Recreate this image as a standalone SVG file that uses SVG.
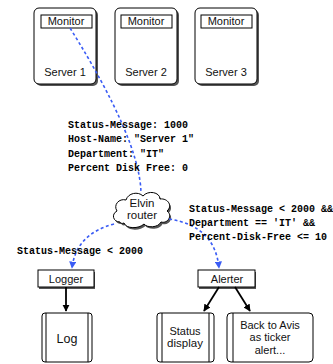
<svg xmlns="http://www.w3.org/2000/svg" width="333" height="364" viewBox="0 0 333 364">
<style>
.box{fill:#fff;stroke:#000;stroke-width:1}
.shadow{fill:#555;stroke:none}
.sans{font-family:"Liberation Sans",Arial,sans-serif;fill:#111;text-anchor:middle}
.mono{font-family:"Liberation Mono","Courier New",monospace;font-size:10px;font-weight:bold;fill:#000}
.blue{fill:none;stroke:#3a5cf5;stroke-width:1.6;stroke-dasharray:3 2.5}
.black{fill:none;stroke:#000;stroke-width:1.8}
</style>
<defs>
<marker id="ab" viewBox="0 0 10 10" refX="9" refY="5" markerWidth="4.5" markerHeight="4.5" orient="auto" markerUnits="strokeWidth">
<path d="M0,0 L10,5 L0,10 Z" fill="#3a5cf5"/>
</marker>
<marker id="ak" viewBox="0 0 10 10" refX="9" refY="5" markerWidth="4" markerHeight="4" orient="auto" markerUnits="strokeWidth">
<path d="M0,0 L10,5 L0,10 Z" fill="#000"/>
</marker>
<path id="cloud" d="M120,222 C113,222 111,214 117,211 C113,205 119,198 126,200 C128,193 138,191 143,196 C148,190 160,192 160,199 C168,198 173,206 167,211 C173,215 168,224 161,222 C158,228 147,228 144,224 C139,229 126,229 124,223 C122,224 120,223 120,222 Z"/>
</defs>
<rect width="333" height="364" fill="#fff"/>

<g id="server1">
<rect class="shadow" x="36" y="10" width="62" height="76" rx="5"/>
<rect class="box" x="34" y="8" width="62" height="76" rx="5"/>
<rect class="box" x="41" y="15" width="51" height="13"/>
<text class="sans" x="66" y="25" font-size="11">Monitor</text>
<text class="sans" x="65" y="76" font-size="11">Server 1</text>
</g>
<g id="server2">
<rect class="shadow" x="117" y="10" width="62" height="76" rx="5"/>
<rect class="box" x="115" y="8" width="62" height="76" rx="5"/>
<rect class="box" x="121" y="15" width="51" height="13"/>
<text class="sans" x="146" y="25" font-size="11">Monitor</text>
<text class="sans" x="146" y="76" font-size="11">Server 2</text>
</g>
<g id="server3">
<rect class="shadow" x="197" y="10" width="62" height="76" rx="5"/>
<rect class="box" x="195" y="8" width="62" height="76" rx="5"/>
<rect class="box" x="201" y="15" width="51" height="13"/>
<text class="sans" x="226" y="25" font-size="11">Monitor</text>
<text class="sans" x="226" y="76" font-size="11">Server 3</text>
</g>

<g id="router">
<use href="#cloud" transform="translate(1.5,2)" fill="#555"/>
<use href="#cloud" fill="#fff" stroke="#000" stroke-width="1"/>
<text class="sans" x="142" y="207" font-size="11.5">Elvin</text>
<text class="sans" x="142" y="219" font-size="11.5">router</text>
</g>

<g id="logger">
<rect class="shadow" x="39" y="272" width="56" height="17"/>
<rect class="box" x="38" y="270" width="56" height="17"/>
<text class="sans" x="66" y="283" font-size="11">Logger</text>
</g>
<g id="alerter">
<rect class="shadow" x="199" y="272" width="57" height="17"/>
<rect class="box" x="198" y="270" width="57" height="17"/>
<text class="sans" x="227" y="283" font-size="11">Alerter</text>
</g>

<g id="log">
<rect class="box" x="42" y="313" width="50" height="49" rx="3"/>
<line x1="46" y1="313" x2="46" y2="362" stroke="#000"/>
<line x1="88" y1="313" x2="88" y2="362" stroke="#000"/>
<text class="sans" x="67" y="343" font-size="12.5">Log</text>
</g>
<g id="status">
<rect class="box" x="157" y="313" width="57" height="49" rx="3"/>
<line x1="162" y1="313" x2="162" y2="362" stroke="#000"/>
<line x1="209" y1="313" x2="209" y2="362" stroke="#000"/>
<text class="sans" x="185" y="335" font-size="11">Status</text>
<text class="sans" x="185" y="347" font-size="11.5">display</text>
</g>
<g id="avis">
<rect class="box" x="227" y="313" width="86" height="49" rx="4"/>
<line x1="233" y1="313" x2="233" y2="362" stroke="#000"/>
<text class="sans" x="270" y="329" font-size="11">Back to Avis</text>
<text class="sans" x="270" y="341" font-size="11">as ticker</text>
<text class="sans" x="270" y="354" font-size="11">alert...</text>
</g>

<g id="connectors">
<path class="blue" d="M70,28 Q140,140 141,193"/>
<path class="blue" d="M114,224 Q76,234 72,268" marker-end="url(#ab)"/>
<path class="blue" d="M169,219 Q215,226 219,268" marker-end="url(#ab)"/>
<line class="black" x1="66" y1="287" x2="66" y2="311" marker-end="url(#ak)"/>
<line class="black" x1="219" y1="287" x2="204" y2="311" marker-end="url(#ak)"/>
<line class="black" x1="235" y1="287" x2="250" y2="311" marker-end="url(#ak)"/>
</g>

<g id="labels">
<text class="mono" x="68" y="128">Status-Message: 1000</text>
<text class="mono" x="68" y="142">Host-Name: "Server 1"</text>
<text class="mono" x="68" y="157">Department: "IT"</text>
<text class="mono" x="68" y="171">Percent Disk Free: 0</text>
<text class="mono" x="189" y="212">Status-Message &lt; 2000 &amp;&amp;</text>
<text class="mono" x="189" y="226">Department == 'IT' &amp;&amp;</text>
<text class="mono" x="189" y="240">Percent-Disk-Free &lt;= 10</text>
<text class="mono" x="17" y="254">Status-Message &lt; 2000</text>
</g>
</svg>
